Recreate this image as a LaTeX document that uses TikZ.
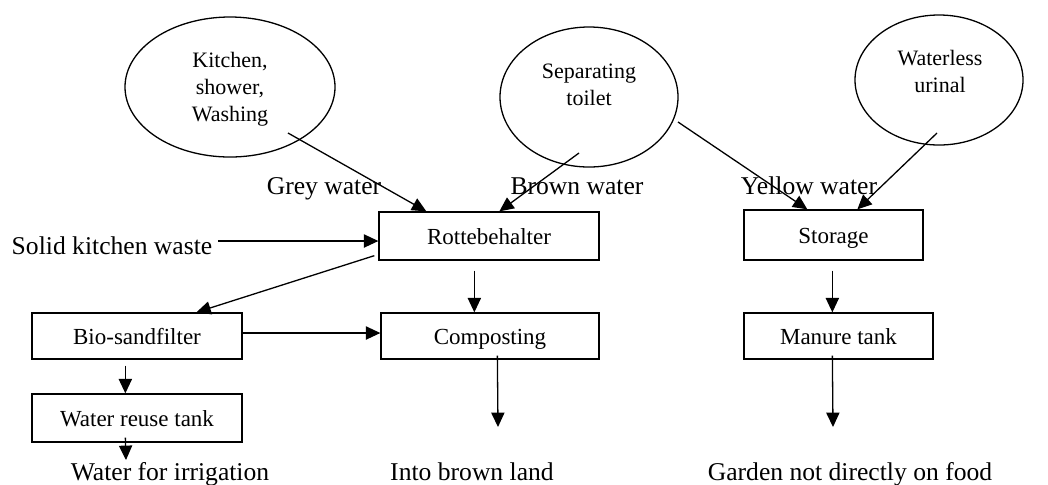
\documentclass[tikz,border=0pt]{standalone}
\usepackage{fontspec}
\setmainfont{Liberation Serif}
\usetikzlibrary{shapes.geometric,arrows.meta,calc}
\begin{document}
\begin{tikzpicture}[x=0.5pt,y=-0.5pt,
  line width=0.65pt,
  every node/.style={inner sep=0pt},
  boxnode/.style={draw, rectangle, font=\fontsize{11.5}{13.5}\selectfont, text height=11pt, text depth=2.5pt},
  ellnode/.style={draw, ellipse},
  elltext/.style={align=center, font=\fontsize{11}{13.5}\selectfont},
  lab/.style={font=\fontsize{12.8}{15}\selectfont, anchor=base},
  arr/.style={-{Triangle[length=7.2pt,width=6.6pt]}}]
\useasboundingbox (0,0) rectangle (1048,484);

% ellipses
\node[ellnode, minimum width=105pt, minimum height=70pt] (kit) at (230,87) {};
\node[ellnode, minimum width=89pt, minimum height=70pt] (sep) at (589,97) {};
\node[ellnode, minimum width=84pt, minimum height=65pt] (uri) at (939,80) {};
\node[elltext] (kittxt) at (230,89) {Kitchen,\\shower,\\Washing};
\node[elltext] (septxt) at (589,85) {Separating\\toilet};
\node[elltext] (uritxt) at (940,71) {Waterless\\urinal};

% boxes
\node[boxnode, minimum width=110pt, minimum height=24pt] (rot) at (489,236) {Rottebehalter};
\node[boxnode, minimum width=89.5pt, minimum height=25pt] (sto) at (833.5,235) {Storage};
\node[boxnode, minimum width=105pt, minimum height=23pt] (bio) at (137,336) {Bio-sandfilter};
\node[boxnode, minimum width=109pt, minimum height=23pt] (comp) at (490,336) {Composting};
\node[boxnode, minimum width=94.5pt, minimum height=23pt] (man) at (838.5,336) {Manure tank};
\node[boxnode, minimum width=105pt, minimum height=24pt] (wat) at (137,418) {Water reuse tank};

% labels
\node[lab] (grey) at (324,194) {Grey water};
\node[lab] (brown) at (577,194) {Brown water};
\node[lab] (yellow) at (809,194) {Yellow water};
\node[lab] (solid) at (112,254) {Solid kitchen waste};
\node[lab] (irrig) at (170,480) {Water for irrigation};
\node[lab] (bland) at (472,480) {Into brown land};
\node[lab] (garden) at (850,480) {Garden not directly on food};

% free ends
\coordinate (kitout) at (288,133);
\coordinate (sepout1) at (579,153);
\coordinate (sepout2) at (678,122);
\coordinate (uriout) at (937,133);
\coordinate (solidout) at (218,241);
\coordinate (watend) at (126,460);
\coordinate (compend) at (498,427);
\coordinate (manend) at (833,427);

% connectors
\draw[arr] (kitout) -- ($(rot.north west)+(48,0)$);
\draw[arr] (sepout1) -- ($(rot.north west)+(121,0)$);
\draw[arr] (sepout2) -- ($(sto.north west)+(64,0)$);
\draw[arr] (uriout) -- ($(sto.north west)+(114,0)$);
\draw[arr] (solidout) -- ($(rot.west)+(0,5)$);
\draw[arr] ($(rot.south west)+(-4,-5)$) -- ($(bio.north west)+(165,0)$);
\draw[arr] ($(rot.south west)+(96,10)$) -- ($(comp.north west)+(94,0)$);
\draw[arr] ($(bio.east)+(0,-3)$) -- ($(comp.west)+(0,-3)$);
\draw[arr] ($(bio.south west)+(94,6)$) -- ($(wat.north west)+(94,0)$);
\draw[arr] ($(wat.south west)+(94,-5)$) -- (watend);
\draw[arr] ($(comp.south west)+(117,-4)$) -- (compend);
\draw[arr] ($(sto.south west)+(89,10)$) -- ($(man.north west)+(89,0)$);
\draw[arr] ($(man.south west)+(89,-4)$) -- (manend);
\end{tikzpicture}
\end{document}
